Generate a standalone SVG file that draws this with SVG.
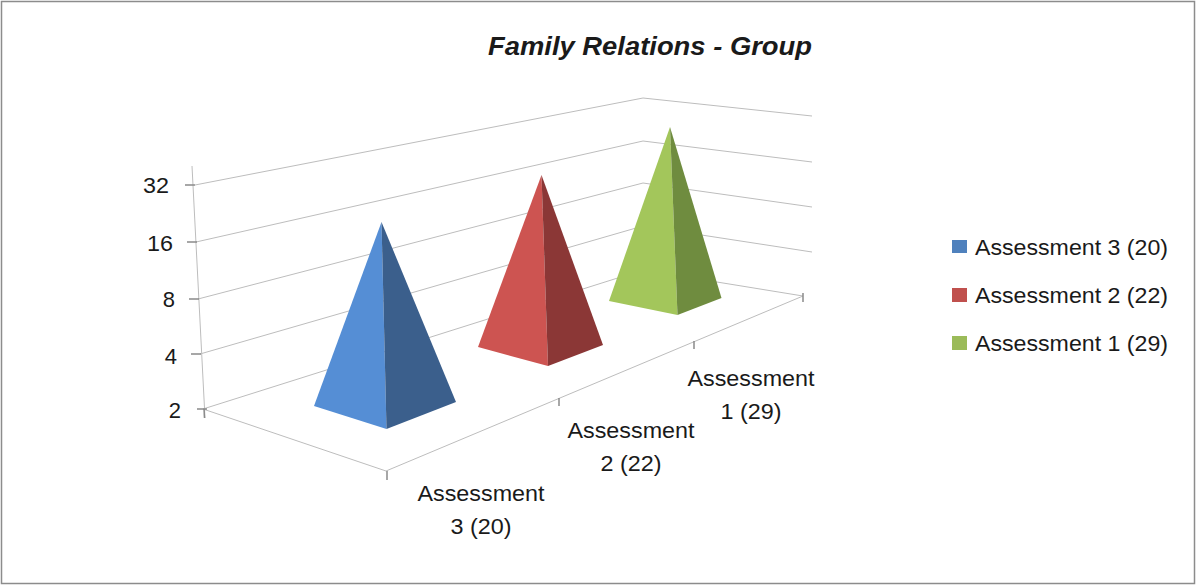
<svg xmlns="http://www.w3.org/2000/svg" width="1197" height="585" viewBox="0 0 1197 585">
<style>
.t{font-family:"Liberation Sans",Arial,sans-serif;fill:#1a1a1a}
.grid{stroke:#bdbdbd;stroke-width:1;fill:none}
.tick{stroke:#8a8a8a;stroke-width:1.5;fill:none}
.ax{font-size:22px;text-anchor:end}
.cat{font-size:22px;text-anchor:middle}
.leg{font-size:22px}
</style>
<rect x="1.5" y="1.5" width="1193" height="582" fill="#ffffff" stroke="#8c8c8c" stroke-width="1.5"/>
<text class="t" x="650" y="55" font-size="26" font-weight="bold" font-style="italic" text-anchor="middle" textLength="324" lengthAdjust="spacingAndGlyphs">Family Relations - Group</text>
<g id="axes">
<line class="grid" x1="192" y1="166" x2="205" y2="418"/>
<line class="grid" x1="195" y1="185" x2="643" y2="98"/>
<line class="grid" x1="196" y1="242" x2="643" y2="141"/>
<line class="grid" x1="198" y1="299" x2="643" y2="183"/>
<line class="grid" x1="200" y1="354" x2="643" y2="226"/>
<line class="grid" x1="203" y1="409" x2="643" y2="270"/>
<line class="grid" x1="643" y1="98" x2="812" y2="116"/>
<line class="grid" x1="643" y1="141" x2="812" y2="162"/>
<line class="grid" x1="643" y1="183" x2="812" y2="207"/>
<line class="grid" x1="643" y1="226" x2="812" y2="252"/>
<line class="grid" x1="643" y1="270" x2="803" y2="296"/>
<line class="grid" x1="203" y1="409" x2="386" y2="471"/>
<line class="grid" x1="386" y1="471" x2="803" y2="296"/>
<line class="tick" x1="185" y1="185" x2="195" y2="185"/>
<line class="tick" x1="187" y1="242" x2="197" y2="242"/>
<line class="tick" x1="189" y1="299" x2="199" y2="299"/>
<line class="tick" x1="191" y1="354" x2="201" y2="354"/>
<line class="tick" x1="197" y1="409" x2="207" y2="409"/>
<line class="tick" x1="204" y1="409" x2="204.5" y2="418"/>
<line class="tick" x1="387" y1="471" x2="387" y2="480"/>
<line class="tick" x1="559" y1="398" x2="559" y2="406"/>
<line class="tick" x1="694" y1="341" x2="694" y2="349"/>
<line class="tick" x1="803" y1="293" x2="803" y2="302"/>
</g>
<g id="y-labels">
<text class="t ax" x="169" y="193" textLength="26" lengthAdjust="spacingAndGlyphs">32</text>
<text class="t ax" x="173" y="251" textLength="26" lengthAdjust="spacingAndGlyphs">16</text>
<text class="t ax" x="175" y="307">8</text>
<text class="t ax" x="177" y="364">4</text>
<text class="t ax" x="181" y="418">2</text>
</g>
<g id="pyramid-3">
<polygon points="381.5,222 314,406 386.5,429" fill="#558ed5"/>
<polygon points="381.5,222 386.5,429 456,402" fill="#3b5f8c"/>
</g>
<g id="pyramid-2">
<polygon points="541.5,175 478,347 548,366" fill="#cd5451"/>
<polygon points="541.5,175 548,366 603,345" fill="#8b3736"/>
</g>
<g id="pyramid-1">
<polygon points="670,127 609,301 677.5,315" fill="#a3c65b"/>
<polygon points="670,127 677.5,315 721.5,298" fill="#6f8c3f"/>
</g>
<g id="cat-3">
<text class="t cat" x="481" y="501" textLength="127" lengthAdjust="spacingAndGlyphs">Assessment</text>
<text class="t cat" x="481" y="534" textLength="61" lengthAdjust="spacingAndGlyphs">3 (20)</text>
</g>
<g id="cat-2">
<text class="t cat" x="631" y="438" textLength="127" lengthAdjust="spacingAndGlyphs">Assessment</text>
<text class="t cat" x="631" y="471" textLength="61" lengthAdjust="spacingAndGlyphs">2 (22)</text>
</g>
<g id="cat-1">
<text class="t cat" x="751" y="386" textLength="127" lengthAdjust="spacingAndGlyphs">Assessment</text>
<text class="t cat" x="751" y="419" textLength="61" lengthAdjust="spacingAndGlyphs">1 (29)</text>
</g>
<g id="legend-3">
<rect x="952" y="240" width="15" height="13" fill="#4f81bd"/>
<text class="t leg" x="975" y="255" textLength="193" lengthAdjust="spacingAndGlyphs">Assessment 3 (20)</text>
</g>
<g id="legend-2">
<rect x="952" y="288" width="15" height="14" fill="#c0504d"/>
<text class="t leg" x="975" y="303" textLength="193" lengthAdjust="spacingAndGlyphs">Assessment 2 (22)</text>
</g>
<g id="legend-1">
<rect x="952" y="336" width="15" height="14" fill="#9bbb59"/>
<text class="t leg" x="975" y="351" textLength="193" lengthAdjust="spacingAndGlyphs">Assessment 1 (29)</text>
</g>
</svg>
